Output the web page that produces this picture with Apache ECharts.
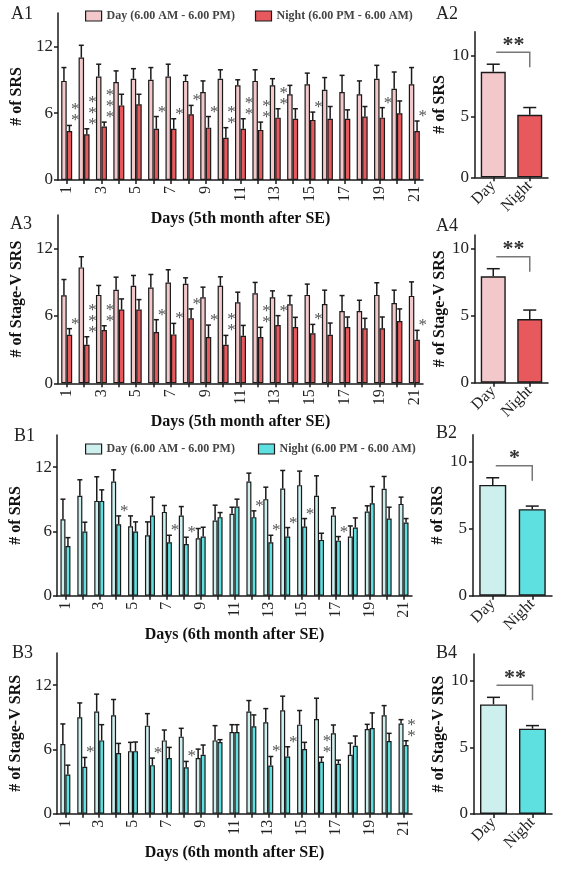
<!DOCTYPE html>
<html>
<head>
<meta charset="utf-8">
<script src="https://cdn.jsdelivr.net/npm/echarts@6/dist/echarts.min.js"></script>
<style>
html,body{margin:0;padding:0;background:#fff;}
#chart{width:572px;height:869px;}
</style>
</head>
<body>
<div id="chart"></div>
<script>
// ---------------- DATA ----------------
const days = ['1','2','3','4','5','6','7','8','9','10','11','12','13','14','15','16','17','18','19','20','21'];
const dayNightCats = ['Day','Night'];
const yTicksDaily = [0, 6, 12];
const yTicksSummary = [0, 5, 10];

// A1: # of SRS, 5th month
const a1Day        = [8.9,11.0,9.3,8.8,9.1,9.0,9.3,8.9,7.9,9.1,8.5,8.9,8.5,7.7,8.6,8.1,7.9,7.7,9.1,8.2,8.6];
const a1DayErr     = [1.2,1.1,1.1,1.0,0.9,1.1,1.1,0.5,1.0,0.8,0.5,1.0,0.6,0.8,1.0,1.1,1.5,1.2,1.2,1.5,1.5];
const a1Night      = [4.4,4.1,4.8,6.7,6.8,4.6,4.6,5.9,4.7,3.8,4.6,4.5,5.6,5.5,5.4,5.5,5.5,5.7,5.6,6.0,4.4];
const a1NightErr   = [0.5,0.5,0.4,1.0,0.9,1.1,0.9,0.8,1.0,0.9,0.9,0.7,0.8,0.9,0.7,1.1,0.8,0.9,0.9,1.1,0.9];
const a1Sig        = ['**','***','***','','','*','*','*','*','**','**','**','**','','*','','','','*','','*'];

// A3: # of Stage-V SRS, 5th month
const a3Day        = [7.85,10.33,7.88,8.33,8.69,8.54,8.99,8.87,7.67,8.69,7.22,8.03,7.67,7.04,7.88,7.07,6.45,6.45,7.88,7.16,7.79];
const a3DayErr     = [1.40,0.95,0.84,1.13,0.92,1.16,1.13,0.53,0.90,0.80,0.90,0.96,0.57,0.78,0.96,1.23,1.37,0.95,1.08,1.14,1.25];
const a3Night      = [4.33,3.43,4.75,6.57,6.57,4.57,4.36,5.79,4.12,3.43,4.24,4.12,5.19,5.01,4.45,4.33,5.01,4.90,4.90,5.55,3.88];
const a3NightErr   = [0.54,0.72,0.38,0.95,0.89,1.10,0.98,0.84,1.07,0.84,0.92,0.87,0.84,0.87,0.80,1.04,0.90,0.89,1.01,1.08,0.84];
const a3Sig        = ['*','***','**','','','*','*','*','*','**','','**','*','','*','','','','','','*'];

// B1: # of SRS, 6th month
const b1Day        = [7.14,9.32,8.85,10.66,6.48,5.64,7.82,7.48,5.36,7.01,7.64,10.66,9.01,10.01,10.32,9.32,7.48,5.52,7.86,9.98,8.57];
const b1DayErr     = [1.87,1.50,2.25,1.09,0.97,1.25,0.60,0.84,0.91,1.44,0.62,0.78,1.12,1.68,1.31,1.87,0.72,0.99,0.53,1.15,0.63];
const b1Night      = [4.64,5.99,8.85,6.67,5.99,7.48,4.99,4.83,5.52,7.33,8.32,7.33,4.99,5.52,6.45,5.21,5.14,6.36,8.63,7.20,6.83];
const b1NightErr   = [0.78,0.87,1.03,0.78,0.90,1.72,0.65,0.63,0.87,0.43,0.69,0.59,0.65,0.84,0.75,0.62,0.38,0.90,1.56,1.06,0.37];
const b1Sig        = ['','','','*','','','*','*','','','','*','*','*','*','','*','','','',''];

// B3: # of Stage-V SRS, 6th month
const b3Day        = [6.50,9.00,9.53,9.19,5.84,8.22,6.84,7.19,5.19,6.84,7.63,9.53,8.53,9.66,8.31,8.84,7.50,5.50,7.91,9.19,8.41];
const b3DayErr     = [1.88,1.34,1.63,1.47,0.82,1.12,0.97,0.78,0.84,1.38,0.68,1.03,1.28,1.31,1.32,1.94,0.78,1.09,0.43,0.90,0.37];
const b3Night      = [3.66,4.38,6.84,5.66,5.84,4.53,5.19,4.34,5.50,6.69,7.63,8.16,4.50,5.34,6.03,4.84,4.66,6.34,8.00,6.78,6.41];
const b3NightErr   = [0.87,0.87,1.47,0.90,0.85,0.66,1.00,0.54,0.91,0.22,0.68,1.06,0.84,0.91,0.63,0.44,0.34,0.91,1.41,0.72,0.40];
const b3Sig        = ['','*','','','','*','','*','','','','','*','*','','**','','','','','**'];

// Summary panels (Day, Night)
const a2Mean = [8.69, 5.15]; const a2Err = [0.63, 0.60]; const a2Sig = '**';
const a4Mean = [7.92, 4.74]; const a4Err = [0.57, 0.67]; const a4Sig = '**';
const b2Mean = [8.26, 6.45]; const b2Err = [0.53, 0.23]; const b2Sig = '*';
const b4Mean = [8.22, 6.40]; const b4Err = [0.53, 0.23]; const b4Sig = '**';

// ---------------- STYLE ----------------
const SERIF = '"Liberation Serif", "DejaVu Serif", serif';
const INK = '#1a1a1a';
const PAL = {
  A: { day: '#f3c8ca', night: '#e8595d' },
  B: { day: '#cdf0ef', night: '#5de0df' }
};
const DAY_NAME = 'Day (6.00 AM - 6.00 PM)';
const NIGHT_NAME = 'Night (6.00 PM - 6.00 AM)';

const grids = [], xAxes = [], yAxes = [], series = [], titles = [];

function valueAxis(gi, max, ticks, name, nameGap, labelMargin) {
  return {
    type: 'value', gridIndex: gi, min: 0, max: max,
    axisLine: { show: true, lineStyle: { color: INK, width: 1.5 } },
    axisTick: { show: true, length: 4, customValues: ticks, lineStyle: { color: INK, width: 1.5 } },
    axisLabel: { customValues: ticks, fontFamily: SERIF, fontSize: 17, color: '#222', margin: labelMargin },
    splitLine: { show: false },
    name: name, nameLocation: 'middle', nameGap: nameGap,
    nameTextStyle: { fontFamily: SERIF, fontWeight: 'bold', fontSize: 16, color: '#111' }
  };
}

function errRender(offsetFn, cap) {
  return function (params, api) {
    const i = api.value(0), m = api.value(1), e = api.value(2);
    const p0 = api.coord([i, m]);
    const p1 = api.coord([i, m + e]);
    const x = p0[0] + offsetFn(api);
    const st = { stroke: INK, lineWidth: 1.5 };
    return { type: 'group', children: [
      { type: 'line', shape: { x1: x, y1: p0[1], x2: x, y2: p1[1] }, style: st },
      { type: 'line', shape: { x1: x - cap / 2, y1: p1[1], x2: x + cap / 2, y2: p1[1] }, style: st }
    ]};
  };
}

function dailyPanel(gi, rect, names, pal, day, dayErr, night, nightErr, sig, yName, xName, bw) {
  grids.push(rect);
  xAxes.push({
    type: 'category', gridIndex: gi, data: days, boundaryGap: true,
    axisLine: { lineStyle: { color: INK, width: 1.5 } },
    axisTick: { show: true, alignWithLabel: true, interval: 0, length: 4, lineStyle: { color: INK, width: 1.5 } },
    axisLabel: { interval: 1, rotate: 90, fontFamily: SERIF, fontSize: 16, color: '#222', margin: 6 },
    name: xName, nameLocation: 'middle', nameGap: 31,
    nameTextStyle: { fontFamily: SERIF, fontWeight: 'bold', fontSize: 16, color: '#111' }
  });
  yAxes.push(valueAxis(gi, 15, yTicksDaily, yName, 24, 5));
  const bs = { borderColor: INK, borderWidth: 1.2 };
  series.push({ type: 'bar', name: names[0], xAxisIndex: gi, yAxisIndex: gi, data: day,
    barWidth: bw, barGap: '0%', itemStyle: Object.assign({ color: pal.day }, bs), animation: false });
  series.push({ type: 'bar', name: names[1], xAxisIndex: gi, yAxisIndex: gi, data: night,
    barWidth: bw, barGap: '0%', itemStyle: Object.assign({ color: pal.night }, bs), animation: false });
  series.push({ type: 'custom', name: 'err-day-' + gi, xAxisIndex: gi, yAxisIndex: gi, z: 5, clip: false,
    renderItem: errRender(() => -bw / 2, 5), data: day.map((v, i) => [i, v, dayErr[i]]), animation: false });
  series.push({ type: 'custom', name: 'err-night-' + gi, xAxisIndex: gi, yAxisIndex: gi, z: 5, clip: false,
    renderItem: errRender(() => bw / 2, 5), data: night.map((v, i) => [i, v, nightErr[i]]), animation: false });
  const starIdx = [];
  sig.forEach((s, i) => { if (s) starIdx.push(i); });
  series.push({ type: 'custom', name: 'sig-' + gi, xAxisIndex: gi, yAxisIndex: gi, z: 6, clip: false,
    data: starIdx.map(i => [i, night[i] + nightErr[i]]),
    renderItem: function (params, api) {
      const p = api.coord([api.value(0), api.value(1)]);
      const txt = sig[starIdx[params.dataIndex]].split('').join('\n');
      return { type: 'text', x: p[0] + bw + 3, y: p[1] + 1,
        style: { text: txt, fontFamily: SERIF, fontSize: 17, lineHeight: 11, fill: '#555',
          align: 'center', verticalAlign: 'bottom' } };
    }, animation: false });
}

function summaryPanel(gi, rect, max, pal, mean, err, sigTxt, yName, bw) {
  grids.push(rect);
  xAxes.push({
    type: 'category', gridIndex: gi, data: dayNightCats, boundaryGap: true,
    axisLine: { lineStyle: { color: INK, width: 1.5 } },
    axisTick: { show: true, alignWithLabel: true, length: 4, lineStyle: { color: INK, width: 1.5 } },
    axisLabel: { rotate: 45, fontFamily: SERIF, fontSize: 16, color: '#222', margin: 6 }
  });
  yAxes.push(valueAxis(gi, max, yTicksSummary, yName, 20, 6));
  series.push({ type: 'bar', name: 'summary-' + gi, xAxisIndex: gi, yAxisIndex: gi, barWidth: bw,
    data: [ { value: mean[0], itemStyle: { color: pal.day } }, { value: mean[1], itemStyle: { color: pal.night } } ],
    itemStyle: { borderColor: INK, borderWidth: 1.4 }, animation: false });
  series.push({ type: 'custom', name: 'sumerr-' + gi, xAxisIndex: gi, yAxisIndex: gi, z: 5, clip: false,
    renderItem: errRender(() => 0, 13), data: mean.map((v, i) => [i, v, err[i]]), animation: false });
  series.push({ type: 'custom', name: 'bracket-' + gi, xAxisIndex: gi, yAxisIndex: gi, z: 6, clip: false,
    data: [[0, mean[0] + err[0], 1, mean[1] + err[1]]],
    renderItem: function (params, api) {
      const pd = api.coord([0, api.value(1)]);
      const pn = api.coord([1, api.value(3)]);
      const yl = pd[1] - 12;
      return { type: 'group', children: [
        { type: 'polyline', shape: { points: [[pd[0] + 3, yl], [pn[0], yl], [pn[0], pd[1] + 3]] },
          style: { stroke: '#777', lineWidth: 1.5, fill: null } },
        { type: 'text', x: (pd[0] + pn[0]) / 2 + 2, y: yl + 4,
          style: { text: sigTxt, fontFamily: SERIF, fontWeight: 'bold', fontSize: 22, fill: '#333',
            align: 'center', verticalAlign: 'bottom' } }
      ]};
    }, animation: false });
}

dailyPanel(0, { left: 58, top: 13, width: 365, height: 167 }, [DAY_NAME, NIGHT_NAME], PAL.A,
  a1Day, a1DayErr, a1Night, a1NightErr, a1Sig, '# of SRS', 'Days (5th month after SE)', 5.5);
summaryPanel(1, { left: 475, top: 31.7, width: 73, height: 145.6 }, 12, PAL.A, a2Mean, a2Err, a2Sig, '# of SRS', 25);
dailyPanel(2, { left: 58, top: 215, width: 365, height: 168.3 }, [DAY_NAME, NIGHT_NAME], PAL.A,
  a3Day, a3DayErr, a3Night, a3NightErr, a3Sig, '# of Stage-V SRS', 'Days (5th month after SE)', 5.5);
summaryPanel(3, { left: 475, top: 235, width: 73, height: 147.7 }, 11, PAL.A, a4Mean, a4Err, a4Sig, '# of Stage-V SRS', 25);
dailyPanel(4, { left: 57, top: 435, width: 355, height: 160.7 }, [DAY_NAME + ' ', NIGHT_NAME + ' '], PAL.B,
  b1Day, b1DayErr, b1Night, b1NightErr, b1Sig, '# of SRS', 'Days (6th month after SE)', 5);
summaryPanel(5, { left: 473, top: 434.7, width: 79, height: 161 }, 12, PAL.B, b2Mean, b2Err, b2Sig, '# of SRS', 27);
dailyPanel(6, { left: 56, top: 653, width: 356, height: 160.7 }, [DAY_NAME + ' ', NIGHT_NAME + ' '], PAL.B,
  b3Day, b3DayErr, b3Night, b3NightErr, b3Sig, '# of Stage-V SRS', 'Days (6th month after SE)', 5);
summaryPanel(7, { left: 474, top: 654, width: 78, height: 160 }, 12, PAL.B, b4Mean, b4Err, b4Sig, '# of Stage-V SRS', 27);

const panelLabels = [
  ['A1', 11, 5], ['A2', 436, 5], ['A3', 10, 215], ['A4', 436, 217],
  ['B1', 14, 427], ['B2', 436, 424], ['B3', 12, 644], ['B4', 436, 644]
];
panelLabels.forEach(p => titles.push({ text: p[0], left: p[1], top: p[2], padding: 0,
  textStyle: { fontFamily: SERIF, fontWeight: 'normal', fontSize: 18, color: '#222' } }));

function legendFor(top, pal, suffix) {
  return {
    top: top, left: 85, orient: 'horizontal', itemWidth: 16, itemHeight: 10, itemGap: 20, padding: 0,
    icon: 'rect',
    textStyle: { fontFamily: SERIF, fontWeight: 'bold', fontSize: 12, color: '#444' },
    data: [
      { name: DAY_NAME + suffix, itemStyle: { color: pal.day, borderColor: INK, borderWidth: 1.2 } },
      { name: NIGHT_NAME + suffix, itemStyle: { color: pal.night, borderColor: INK, borderWidth: 1.2 } }
    ]
  };
}

const chart = echarts.init(document.getElementById('chart'), null, { renderer: 'canvas' });
chart.setOption({
  backgroundColor: '#fff',
  animation: false,
  title: titles,
  legend: [legendFor(10, PAL.A, ''), legendFor(443, PAL.B, ' ')],
  grid: grids,
  xAxis: xAxes,
  yAxis: yAxes,
  series: series
});
</script>
</body>
</html>
